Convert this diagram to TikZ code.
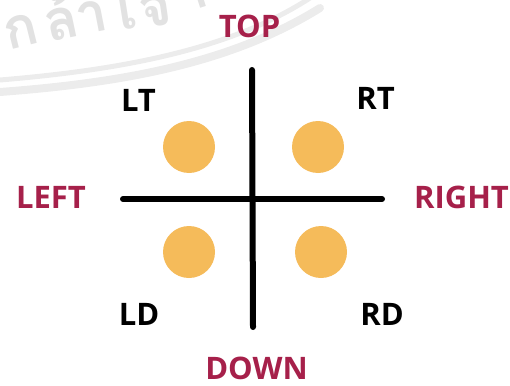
\documentclass[tikz,border=0pt]{standalone}
\usepackage{fontspec}
\setmainfont{Open Sans}
\newfontfamily\thaiwm[Script=Thai]{Loma}
\definecolor{maroon}{RGB}{166,32,74}
\definecolor{dotc}{RGB}{245,187,90}
\definecolor{wm}{RGB}{226,226,226}
\definecolor{wmband}{RGB}{236,236,236}
\begin{document}
\begin{tikzpicture}[x=1pt,y=-1pt,
  lbl/.style={anchor=base,inner sep=0pt,font=\fontsize{31}{36}\selectfont\bfseries},
  dir/.style={lbl,text=maroon},
  quad/.style={lbl,text=black},
  dot/.style={circle,fill=dotc,minimum size=52pt,inner sep=0pt},
  axis/.style={line width=6pt,line cap=round},
  wmtext/.style={anchor=base,inner sep=0pt,text=wm,font=\thaiwm\bfseries\fontsize{56}{56}\selectfont},
  band/.style={wmband,line cap=round}]
\useasboundingbox (0,0) rectangle (510,385);
% watermark
\draw[band,line width=5pt] (0,80) .. controls (120,70) and (230,50) .. (310,-2);
\draw[band,line width=8pt] (0,92) .. controls (120,83) and (230,64) .. (320,8);
\node[wmtext,rotate=14] (w1) at (25,46) {ก};
\node[wmtext,rotate=12] (w2) at (65,39) {ล้};
\node[wmtext,rotate=11] (w3) at (95,33) {า};
\node[wmtext,rotate=9] (w4) at (130,29) {เ};
\node[wmtext,rotate=8] (w5) at (158,26) {จ้};
\node[wmtext,rotate=18] (w6) at (196,10) {า};
% axes
\coordinate (vt) at (252,70);
\coordinate (vb) at (253,327);
\coordinate (hl) at (123,199);
\coordinate (hr) at (382,199);
\draw[axis] (vt) -- (vb);
\draw[axis] (hl) -- (hr);
% dots
\node[dot] (dlt) at (189,147) {};
\node[dot] (drt) at (318,147) {};
\node[dot] (dld) at (189,252) {};
\node[dot] (drd) at (321,252) {};
% labels
\node[dir] (top) at (249.5,38) {TOP};
\node[dir] (left) at (51,208) {LEFT};
\node[dir] (right) at (461.5,208) {RIGHT};
\node[dir] (down) at (256.5,379) {DOWN};
\node[quad] (lt) at (138.5,111) {LT};
\node[quad] (rt) at (375.5,110) {RT};
\node[quad] (ld) at (139,325) {LD};
\node[quad] (rd) at (382,325) {RD};
\end{tikzpicture}
\end{document}
